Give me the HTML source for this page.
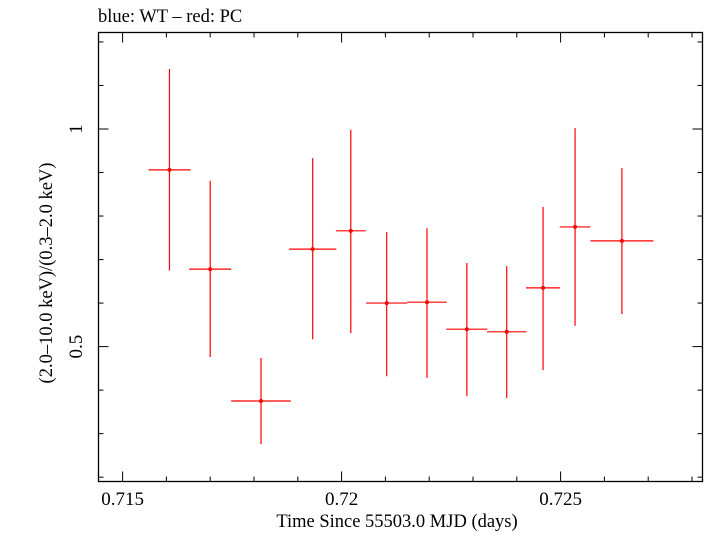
<!DOCTYPE html>
<html><head><meta charset="utf-8"><style>
body{margin:0;background:#fff;width:705px;height:532px;overflow:hidden}
svg{font-family:"Liberation Serif",serif}
</style></head><body>
<svg id="chart" width="705" height="532">
<text x="98" y="22" font-size="18.5">blue: WT – red: PC</text>
<rect x="98.5" y="32.5" width="604" height="449" fill="none" stroke="#000" stroke-width="1.3"/>
<g id="axes"></g>
<g id="marks"></g>
<text x="397" y="527" font-size="18.5" text-anchor="middle">Time Since 55503.0 MJD (days)</text>
<text transform="translate(52,273) rotate(-90)" font-size="18.5" text-anchor="middle">(2.0–10.0 keV)/(0.3–2.0 keV)</text>
</svg>
<script>
const times=[0.71607,0.7170,0.71816,0.71934,0.72021,0.72103,0.72195,0.72286,0.72377,0.7246,0.72533,0.7264];
const halfWidths=[0.00048,0.00048,0.00068,0.00054,0.00034,0.00047,0.00045,0.00047,0.00045,0.00039,0.00035,0.00072];
const ratios=[0.906,0.678,0.375,0.724,0.766,0.600,0.602,0.540,0.534,0.635,0.775,0.743];
const errHi=[1.138,0.881,0.474,0.933,0.998,0.763,0.772,0.692,0.685,0.821,1.002,0.910];
const errLo=[0.675,0.476,0.276,0.517,0.531,0.432,0.428,0.386,0.382,0.446,0.548,0.575];
const xTicks=[0.715,0.72,0.725];
const xTickLabels=["0.715","0.72","0.725"];
const yTicks=[0.5,1];
const yTickLabels=["0.5","1"];
const NS="http://www.w3.org/2000/svg";
const L=98.5,R=702.5,T=32.5,B=481.5;
function sx(t){return 122.6+(t-0.715)*43800;}
function sy(v){return 129-(v-1)*435.2;}
function mk(tag,a,p){const e=document.createElementNS(NS,tag);for(const k in a)e.setAttribute(k,a[k]);p.appendChild(e);return e;}
const ax=document.getElementById('axes'),mg=document.getElementById('marks');
for(let i=0;i<=13;i++){const t=0.715+i*0.001;const x=sx(t);if(x<L||x>R)continue;const major=i%5===0;
 const a=mk('line',{x1:x,x2:x,y1:B,y2:B-(major?10:5),stroke:'#000'},ax);
 const b=mk('line',{x1:x,x2:x,y1:T,y2:T+(major?10:5),stroke:'#000'},ax);}
for(let i=2;i<=12;i++){const v=i/10;const y=sy(v);if(y<T||y>B)continue;const major=(i===5||i===10);
 const a=mk('line',{x1:L,x2:L+(major?10:5),y1:y,y2:y,stroke:'#000'},ax);
 const b=mk('line',{x1:R,x2:R-(major?10:5),y1:y,y2:y,stroke:'#000'},ax);}
xTicks.forEach((t,i)=>{const e=mk('text',{x:sx(t),y:505,'font-size':19,'text-anchor':'middle'},ax);e.textContent=xTickLabels[i];
 });
yTicks.forEach((v,i)=>{const e=mk('text',{transform:`translate(82,${sy(v)}) rotate(-90)`,'font-size':19,'text-anchor':'middle'},ax);e.textContent=yTickLabels[i];
 });
times.forEach((t,i)=>{const g=mk('g',{},mg);
 mk('line',{x1:sx(t),x2:sx(t),y1:sy(errHi[i]),y2:sy(errLo[i]),stroke:'#f00','stroke-width':1.2},g);
 mk('line',{x1:sx(t-halfWidths[i]),x2:sx(t+halfWidths[i]),y1:sy(ratios[i]),y2:sy(ratios[i]),stroke:'#f00','stroke-width':1.2},g);
 mk('circle',{cx:sx(t),cy:sy(ratios[i]),r:2,fill:'#f00'},g);});
</script>
</body></html>
